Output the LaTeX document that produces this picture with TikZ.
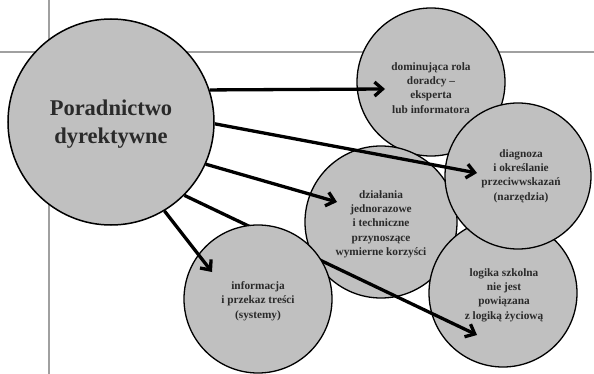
\documentclass[tikz,border=0pt]{standalone}
\usepackage{fontspec}
\setmainfont{Liberation Serif}
\usetikzlibrary{arrows.meta}
\definecolor{cfill}{HTML}{C0C0C0}
\definecolor{gline}{HTML}{A0A0A0}
\definecolor{ctext}{HTML}{2A2A2A}
\tikzset{
  bubble/.style={circle, draw=black, line width=1.3pt, fill=cfill, inner sep=0pt},
  btext/.style={align=center, font=\bfseries\fontsize{11.3}{14.3}\selectfont, text=ctext, inner sep=0pt},
  mtext/.style={align=center, font=\bfseries\fontsize{22.5}{28}\selectfont, text=ctext, inner sep=0pt},
  arr/.style={line width=3.3pt, -{Straight Barb[length=8pt,width=14pt]}},
  gridline/.style={draw=gline, line width=1.3pt}
}
\begin{document}
\begin{tikzpicture}[x=1pt,y=-1pt]
\useasboundingbox (0,0) rectangle (594,374);
% frame lines
\coordinate (h1) at (0,52); \coordinate (h2) at (594,52);
\coordinate (v1) at (49,0); \coordinate (v2) at (49,374);
\draw[gridline] (h1) -- (h2);
\draw[gridline] (v1) -- (v2);
% main circle
\node[bubble, line width=1.5pt, minimum size=206pt] (main) at (111,122) {};
\node[mtext] (mainT) at (111,124) {Poradnictwo\\dyrektywne};
% other circles
\node[bubble, minimum size=148pt] (dom) at (431,82) {};
\node[btext] (domT) at (431,88) {dominująca rola\\doradcy –\\eksperta\\lub informatora};
\node[bubble, minimum size=152pt] (dzi) at (381,222) {};
\node[btext] (dziT) at (381,224) {działania\\jednorazowe\\i techniczne\\przynoszące\\wymierne korzyści};
\node[bubble, minimum size=148pt] (log) at (503,293) {};
\node[btext] (logT) at (504,295) {logika szkolna\\nie jest\\powiązana\\z logiką życiową};
\node[bubble, minimum size=146pt] (dia) at (518,176) {};
\node[btext] (diaT) at (521,176) {diagnoza\\i określanie\\przeciwwskazań\\(narzędzia)};
% arrow tips
\coordinate (tA) at (385,89);
\coordinate (tB) at (477,173);
\coordinate (tC) at (337,202);
\coordinate (tD) at (477,335);
\coordinate (tE) at (212,272);
\draw[arr] (main.18) -- (tA);
\draw[arr] (main.-1) -- (tB);
\draw[arr] (main.-24) -- (tC);
\draw[arr] (main.-45) -- (tD);
% informacja circle over arrow D
\node[bubble, minimum size=148pt] (inf) at (258,299) {};
\node[btext] (infT) at (258,301) {informacja\\i przekaz treści\\(systemy)};
\draw[arr] (main.-59) -- (tE);
\end{tikzpicture}
\end{document}
